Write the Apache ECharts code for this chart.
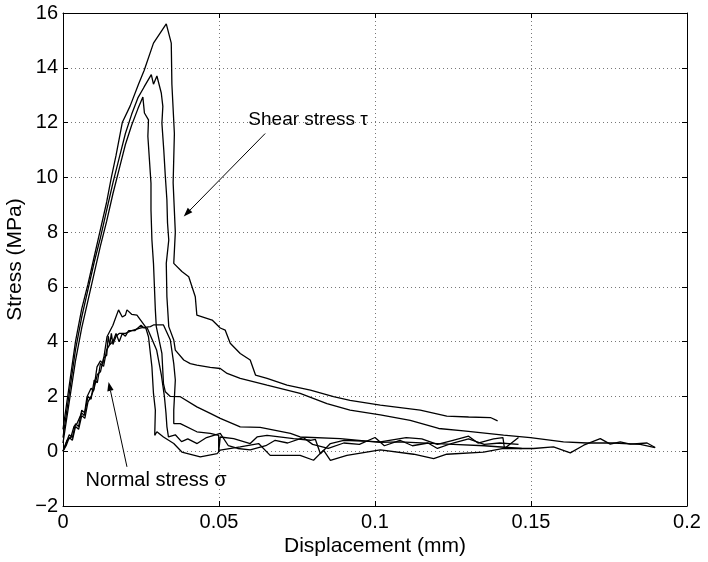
<!DOCTYPE html>
<html><head><meta charset="utf-8">
<script src="https://cdn.jsdelivr.net/npm/echarts@6/dist/echarts.min.js"></script>
<style>html,body{margin:0;padding:0;background:#fff}#c{width:708px;height:562px}</style>
</head><body><div id="c"></div>
<script>
// ---- data (displacement mm, stress MPa) ----
var xTicks = [0, 0.05, 0.1, 0.15, 0.2];
var yTicks = [-2, 0, 2, 4, 6, 8, 10, 12, 14, 16];

var shearA = [[0,0.8],[0.002,2.4],[0.004,4.0],[0.006,5.2],[0.008,6.1],[0.010,7.1],[0.012,8.1],[0.014,9.1],[0.0155,10.0],[0.017,10.8],[0.019,12.0],[0.0215,12.6],[0.0242,13.4],[0.026,13.9],[0.029,14.9],[0.0331,15.6],[0.0347,14.9],[0.0349,13.4],[0.0357,11.6],[0.0353,9.8],[0.036,8.0],[0.0355,6.86],[0.0381,6.56],[0.0403,6.37],[0.0424,5.64],[0.0429,4.97],[0.0478,4.79],[0.0504,4.5],[0.052,4.42],[0.0536,3.94],[0.0568,3.57],[0.06,3.33],[0.0617,2.78],[0.0654,2.66],[0.0718,2.41],[0.0793,2.23],[0.0867,1.99],[0.092,1.86],[0.1017,1.68],[0.1145,1.5],[0.123,1.28],[0.130,1.25],[0.137,1.23],[0.1393,1.11]];

var shearB = [[0,0.5],[0.002,2.1],[0.004,3.7],[0.006,4.9],[0.008,5.9],[0.010,6.9],[0.012,7.8],[0.014,8.8],[0.016,9.8],[0.018,10.7],[0.020,11.6],[0.022,12.3],[0.024,12.9],[0.026,13.3],[0.0283,13.75],[0.029,13.4],[0.0301,13.7],[0.0315,13.08],[0.032,12.59],[0.0317,11.98],[0.0323,11.0],[0.0328,10.03],[0.0333,9.18],[0.0335,8.33],[0.0339,7.71],[0.0331,6.86],[0.0333,5.64],[0.0339,4.55],[0.0355,4.06],[0.036,3.69],[0.0387,3.33],[0.0408,3.2],[0.0429,3.14],[0.0472,3.06],[0.0504,3.02],[0.0526,2.84],[0.0568,2.66],[0.0654,2.41],[0.076,2.11],[0.0846,1.74],[0.092,1.5],[0.1017,1.33],[0.1113,1.13],[0.1204,0.83],[0.1284,0.74],[0.1412,0.585],[0.1498,0.5],[0.1604,0.34],[0.168,0.3],[0.1765,0.3],[0.185,0.25],[0.1898,0.135]];

var shearC = [[0,0.3],[0.002,1.8],[0.004,3.3],[0.006,4.5],[0.008,5.5],[0.010,6.5],[0.012,7.5],[0.014,8.4],[0.016,9.4],[0.018,10.3],[0.020,11.2],[0.022,11.9],[0.024,12.5],[0.0256,12.93],[0.0261,12.35],[0.0274,12.1],[0.0272,11.5],[0.0277,10.64],[0.0282,9.79],[0.0282,8.81],[0.0285,7.71],[0.029,6.86],[0.0296,5.16],[0.0299,4.55],[0.0317,3.57],[0.0322,2.47],[0.0328,2.17],[0.0344,2.0],[0.0376,1.99],[0.0429,1.62],[0.0472,1.38],[0.0504,1.2],[0.0568,0.89],[0.0632,0.87],[0.0729,0.65],[0.076,0.52],[0.0889,0.46],[0.1017,0.32],[0.108,0.34],[0.125,0.25],[0.135,0.2],[0.147,0.1]];

var normal1 = [[0,0],[0.0013,0.4],[0.0025,0.5],[0.0035,0.9],[0.0045,1.01],[0.006,1.4],[0.0068,1.3],[0.0077,1.99],[0.009,2.3],[0.0098,2.2],[0.0109,3.08],[0.012,3.3],[0.0128,3.2],[0.0141,4.18],[0.016,4.6],[0.0178,5.16],[0.019,4.9],[0.02,4.97],[0.0205,5.16],[0.022,5.0],[0.0237,4.97],[0.0264,4.55],[0.0274,4.18],[0.0285,3.08],[0.029,2.11],[0.0296,1.5],[0.0294,0.58],[0.0301,0.71],[0.0322,0.52],[0.0355,0.28],[0.0381,-0.03],[0.044,-0.21],[0.0494,-0.09],[0.0504,0.04],[0.0568,0.16],[0.0627,0.28],[0.0664,-0.15],[0.076,-0.15],[0.0803,-0.33],[0.0835,0.04],[0.0857,-0.33],[0.091,-0.15],[0.1017,0.05],[0.1124,-0.11],[0.1188,-0.27],[0.123,-0.11],[0.1348,-0.03],[0.1412,0.1],[0.1508,0.1],[0.1572,0.16],[0.1626,-0.06],[0.1669,0.22],[0.1722,0.46],[0.1754,0.26],[0.1786,0.34],[0.1818,0.26],[0.1872,0.30],[0.1898,0.135]];

var normal2 = [[0,0],[0.001,0.3],[0.002,0.6],[0.003,0.5],[0.004,1.0],[0.005,0.9],[0.006,1.5],[0.007,1.4],[0.008,2.0],[0.009,1.9],[0.010,2.6],[0.011,2.5],[0.012,3.2],[0.013,3.1],[0.014,3.7],[0.015,3.9],[0.0155,4.3],[0.016,3.9],[0.017,4.2],[0.018,4.3],[0.020,4.3],[0.022,4.4],[0.025,4.5],[0.028,4.55],[0.029,4.61],[0.0322,4.61],[0.0344,4.06],[0.0355,3.2],[0.036,2.6],[0.0355,1.5],[0.0355,1.01],[0.0376,1.01],[0.0429,0.71],[0.0472,0.65],[0.0499,0.58],[0.0499,-0.03],[0.0504,0.52],[0.0547,0.46],[0.06,0.28],[0.0622,0.52],[0.0654,0.58],[0.0739,0.46],[0.0793,0.4],[0.0809,0.43],[0.0825,-0.09],[0.0857,0.28],[0.09,0.4],[0.1017,0.34],[0.11,0.5],[0.115,0.45],[0.12,0.25],[0.125,0.4],[0.13,0.55],[0.133,0.3],[0.138,0.45],[0.141,0.5],[0.1415,0.1],[0.146,0.5]];

var normal3 = [[0,0],[0.001,0.2],[0.002,0.5],[0.003,0.4],[0.004,0.9],[0.005,0.8],[0.006,1.3],[0.007,1.2],[0.008,1.8],[0.009,2.0],[0.010,2.3],[0.011,2.8],[0.012,2.9],[0.013,3.4],[0.014,3.5],[0.0145,4.2],[0.015,3.9],[0.016,4.0],[0.017,4.3],[0.018,4.0],[0.019,4.3],[0.020,4.2],[0.021,4.4],[0.023,4.4],[0.025,4.6],[0.026,4.5],[0.027,4.5],[0.0285,4.1],[0.030,3.7],[0.0315,2.8],[0.0325,2.0],[0.033,1.4],[0.0333,0.9],[0.0338,0.52],[0.036,0.6],[0.038,0.35],[0.040,0.45],[0.043,0.28],[0.046,0.5],[0.0504,0.65],[0.053,0.2],[0.056,0.1],[0.060,0.05],[0.065,0.2],[0.068,0.4],[0.072,0.3],[0.077,0.5],[0.080,0.25],[0.085,0.1],[0.09,0.3],[0.095,0.25],[0.1,0.5],[0.103,0.2],[0.108,0.4],[0.112,0.2],[0.117,0.3],[0.12,0.1],[0.125,0.3],[0.13,0.45],[0.135,0.25],[0.14,0.3],[0.146,0.25]];

// annotations (data coordinates)
var shearLabel = {text: 'Shear stress \u03c4', at: [0.0594, 12.1], size: 19};
var shearArrow = {from: [0.0648, 11.6], to: [0.0387, 8.57]};
var normalLabel = {text: 'Normal stress \u03c3', at: [0.0072, -1.06], size: 20};
var normalArrow = {from: [0.0205, -0.57], to: [0.0146, 2.53]};

var FONT = '"Liberation Sans", Arial, Helvetica, sans-serif';
var chart = echarts.init(document.getElementById('c'), null, {renderer: 'canvas'});

function fmt(v){ var s = String(Number(v.toFixed(3))); return s.replace('-', '\u2212'); }

var curves = [shearA, shearB, shearC, normal1, normal2, normal3];
var series = curves.map(function(d){
  return {type: 'line', data: d, showSymbol: false, symbol: 'none', animation: false,
    lineStyle: {color: '#000', width: 1.3}, xAxisIndex: 0, yAxisIndex: 0, z: 3};
});

var axisCommon = {
  axisLine: {show: true, onZero: false, lineStyle: {color: '#000', width: 1}},
  axisTick: {show: true, inside: true, length: 5, lineStyle: {color: '#000'}}
};

chart.setOption({
  animation: false,
  backgroundColor: '#fff',
  grid: {left: 63, right: 21, top: 13, bottom: 56, containLabel: false, outerBoundsMode: 'none'},
  xAxis: [
    Object.assign({type: 'value', min: 0, max: 0.2, interval: 0.05, position: 'bottom',
      name: 'Displacement (mm)', nameLocation: 'middle', nameGap: 30, nameMoveOverlap: false,
      nameTextStyle: {fontFamily: FONT, fontSize: 21, color: '#000'},
      axisLabel: {fontFamily: FONT, fontSize: 20, color: '#000', margin: 6, formatter: fmt},
      splitLine: {show: true, lineStyle: {color: '#777', width: 1, type: [1, 3]}}}, axisCommon),
    Object.assign({type: 'value', min: 0, max: 0.2, interval: 0.05, position: 'top',
      axisLabel: {show: false}, splitLine: {show: false}}, axisCommon)
  ],
  yAxis: [
    Object.assign({type: 'value', min: -2, max: 16, interval: 2, position: 'left',
      name: 'Stress (MPa)', nameLocation: 'middle', nameGap: 37, nameMoveOverlap: false,
      nameTextStyle: {fontFamily: FONT, fontSize: 21, color: '#000'},
      axisLabel: {fontFamily: FONT, fontSize: 20, color: '#000', margin: 5, formatter: fmt},
      splitLine: {show: true, lineStyle: {color: '#777', width: 1, type: [1, 3]}}}, axisCommon),
    Object.assign({type: 'value', min: -2, max: 16, interval: 2, position: 'right',
      axisLabel: {show: false}, splitLine: {show: false}}, axisCommon)
  ],
  series: series
});

function px(p){ return chart.convertToPixel({xAxisIndex: 0, yAxisIndex: 0}, p); }
function arrow(a){
  var f = px(a.from), t = px(a.to);
  var ang = Math.atan2(t[1]-f[1], t[0]-f[0]);
  var L = 9, W = 3.2;
  var bx = t[0] - L*Math.cos(ang), by = t[1] - L*Math.sin(ang);
  var nx = -Math.sin(ang)*W, ny = Math.cos(ang)*W;
  return [
    {type: 'line', shape: {x1: f[0], y1: f[1], x2: bx, y2: by}, style: {stroke: '#000', lineWidth: 1}, z: 10},
    {type: 'polygon', shape: {points: [[t[0], t[1]], [bx+nx, by+ny], [bx-nx, by-ny]]}, style: {fill: '#000'}, z: 10}
  ];
}
function label(l){
  var p = px(l.at);
  return {type: 'text', x: p[0], y: p[1], z: 10,
    style: {text: l.text, fontFamily: FONT, fontSize: l.size, fill: '#000', verticalAlign: 'middle', align: 'left'}};
}
chart.setOption({graphic: [].concat(arrow(shearArrow), arrow(normalArrow), [label(shearLabel), label(normalLabel)])});
</script></body></html>
